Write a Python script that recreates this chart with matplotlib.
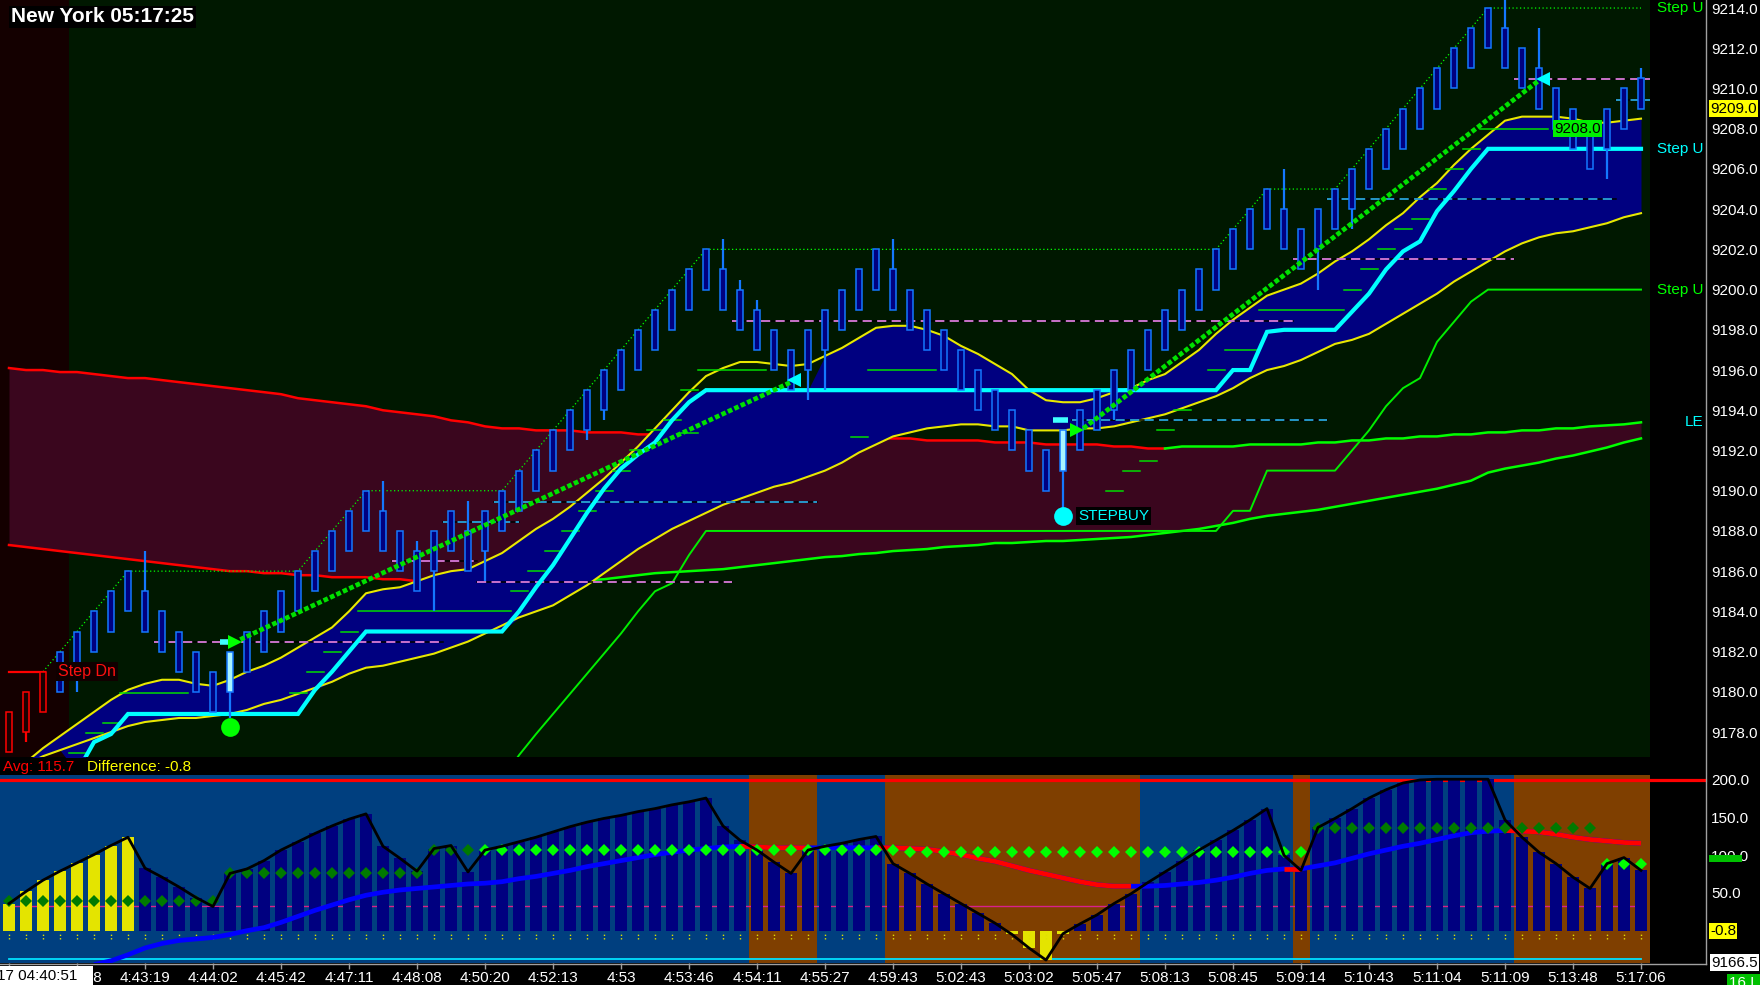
import matplotlib
matplotlib.use("Agg")
import matplotlib.pyplot as plt
import numpy as np
from matplotlib import transforms
from matplotlib.lines import Line2D
from matplotlib.patches import Rectangle

plt.rcParams["font.family"] = ["Liberation Sans", "DejaVu Sans"]
nan = np.nan

# ---------------- price panel data (one entry per range bar) ----------------
opens = [9179, 9178, 9179, 9180, 9181, 9182, 9183, 9184, 9185, 9184,
         9183, 9182, 9181, 9180, 9181, 9182, 9183, 9184, 9185, 9186,
         9187, 9188, 9189, 9188, 9187, 9186, 9187, 9188, 9187, 9188,
         9189, 9190, 9191, 9192, 9193, 9194, 9195, 9196, 9197, 9198,
         9199, 9200, 9201, 9200, 9199, 9198, 9197, 9196, 9197, 9198,
         9199, 9200, 9201, 9200, 9199, 9198, 9197, 9196, 9195, 9194,
         9193, 9192, 9191, 9192, 9193, 9194, 9195, 9196, 9197, 9198,
         9199, 9200, 9201, 9202, 9203, 9204, 9203, 9202, 9203, 9204,
         9205, 9206, 9207, 9208, 9209, 9210, 9211, 9212, 9213, 9212,
         9211, 9210, 9209, 9208, 9207, 9208, 9210.5]
closes = [9177, 9180, 9181, 9182, 9183, 9184, 9185, 9186, 9183, 9182,
          9181, 9180, 9179, 9182, 9183, 9184, 9185, 9186, 9187, 9188,
          9189, 9190, 9187, 9186, 9185, 9188, 9189, 9186, 9189, 9190,
          9191, 9192, 9193, 9194, 9195, 9196, 9197, 9198, 9199, 9200,
          9201, 9202, 9199, 9198, 9197, 9196, 9195, 9198, 9199, 9200,
          9201, 9202, 9199, 9198, 9197, 9196, 9195, 9194, 9193, 9192,
          9191, 9190, 9193, 9194, 9195, 9196, 9197, 9198, 9199, 9200,
          9201, 9202, 9203, 9204, 9205, 9202, 9201, 9204, 9205, 9206,
          9207, 9208, 9209, 9210, 9211, 9212, 9213, 9214, 9211, 9210,
          9209, 9208, 9207, 9206, 9209, 9210, 9209]
wick_hi = {8: 9187.0, 22: 9190.5, 24: 9187.5, 27: 9189.5, 42: 9202.5, 43: 9200.5,
           44: 9199.5, 52: 9202.5, 75: 9206.0, 88: 9215.0, 90: 9213.0, 96: 9211.0}
wick_lo = {1: 9177.5, 4: 9180.0, 13: 9178.7, 25: 9184.0, 28: 9185.5, 34: 9192.5,
           35: 9193.5, 47: 9194.5, 48: 9195.0, 62: 9189.0, 65: 9193.5, 77: 9200.0,
           79: 9203.0, 94: 9205.5}
red_bars = [0, 1, 2]
signal_bars = [13, 62]

band_up = [9175.9, 9176.5, 9177.2, 9177.8, 9178.4, 9179.0, 9179.6, 9180.1, 9180.4, 9180.6,
           9180.6, 9180.4, 9180.3, 9180.6, 9181.0, 9181.3, 9181.7, 9182.2, 9182.7, 9183.2,
           9184.0, 9184.9, 9185.1, 9185.2, 9185.5, 9185.8, 9186.0, 9186.1, 9186.5, 9186.9,
           9187.5, 9188.1, 9188.6, 9189.2, 9189.9, 9190.6, 9191.4, 9192.2, 9193.1, 9194.0,
           9194.9, 9195.7, 9196.1, 9196.4, 9196.4, 9196.3, 9196.2, 9196.3, 9196.7, 9197.1,
           9197.6, 9198.1, 9198.2, 9198.2, 9198.0, 9197.7, 9197.2, 9196.8, 9196.3, 9195.8,
           9195.0, 9194.5, 9194.4, 9194.4, 9194.6, 9194.9, 9195.1, 9195.5, 9195.8, 9196.4,
           9197.0, 9197.8, 9198.5, 9199.1, 9199.7, 9200.0, 9200.3, 9200.8, 9201.4, 9201.9,
           9202.5, 9203.2, 9203.8, 9204.6, 9205.3, 9206.2, 9207.0, 9207.7, 9208.4, 9208.6,
           9208.6, 9208.6, 9208.5, 9208.3, 9208.3, 9208.4, 9208.5]
band_dn = [9176.0, 9176.4, 9176.8, 9177.1, 9177.4, 9177.7, 9178.0, 9178.3, 9178.5, 9178.6,
           9178.7, 9178.7, 9178.8, 9178.9, 9179.1, 9179.4, 9179.6, 9179.9, 9180.2, 9180.5,
           9180.9, 9181.2, 9181.3, 9181.5, 9181.7, 9181.9, 9182.2, 9182.5, 9182.9, 9183.3,
           9183.7, 9184.0, 9184.3, 9184.8, 9185.3, 9185.9, 9186.5, 9187.1, 9187.6, 9188.1,
           9188.5, 9188.9, 9189.3, 9189.6, 9189.9, 9190.2, 9190.4, 9190.7, 9191.0, 9191.4,
           9191.9, 9192.3, 9192.7, 9192.9, 9193.1, 9193.2, 9193.3, 9193.3, 9193.2, 9193.2,
           9193.0, 9193.0, 9193.0, 9193.1, 9193.1, 9193.2, 9193.4, 9193.6, 9193.8, 9194.1,
           9194.4, 9194.7, 9195.1, 9195.6, 9196.0, 9196.2, 9196.5, 9196.9, 9197.3, 9197.5,
           9197.8, 9198.3, 9198.8, 9199.3, 9199.8, 9200.4, 9200.9, 9201.4, 9201.9, 9202.3,
           9202.6, 9202.8, 9202.9, 9203.1, 9203.3, 9203.6, 9203.8]
step_cyan = [nan, nan, nan, nan, 9176.0, 9177.5, 9177.9, 9178.9, 9178.9, 9178.9,
             9178.9, 9178.9, 9178.9, 9178.9, 9178.9, 9178.9, 9178.9, 9178.9, 9180.1, 9181.0,
             9182.0, 9183.0, 9183.0, 9183.0, 9183.0, 9183.0, 9183.0, 9183.0, 9183.0, 9183.0,
             9184.0, 9185.2, 9186.3, 9187.6, 9188.9, 9190.1, 9191.1, 9191.8, 9192.4, 9193.5,
             9194.4, 9195.0, 9195.0, 9195.0, 9195.0, 9195.0, 9195.0, 9195.0, 9195.0, 9195.0,
             9195.0, 9195.0, 9195.0, 9195.0, 9195.0, 9195.0, 9195.0, 9195.0, 9195.0, 9195.0,
             9195.0, 9195.0, 9195.0, 9195.0, 9195.0, 9195.0, 9195.0, 9195.0, 9195.0, 9195.0,
             9195.0, 9195.0, 9196.0, 9196.0, 9197.9, 9198.0, 9198.0, 9198.0, 9198.0, 9198.9,
             9199.8, 9201.0, 9201.9, 9202.4, 9203.9, 9204.9, 9206.0, 9207.0, 9207.0, 9207.0,
             9207.0, 9207.0, 9207.0, 9207.0, 9207.0, 9207.0, 9207.0]
step_green = [nan] * 29 + [
             9175.6,
             9176.85, 9177.9, 9178.9, 9179.9, 9180.9, 9181.9, 9182.9, 9184.0, 9185.0, 9185.4,
             9186.8, 9188.0, 9188.0, 9188.0, 9188.0, 9188.0, 9188.0, 9188.0, 9188.0, 9188.0,
             9188.0, 9188.0, 9188.0, 9188.0, 9188.0, 9188.0, 9188.0, 9188.0, 9188.0, 9188.0,
             9188.0, 9188.0, 9188.0, 9188.0, 9188.0, 9188.0, 9188.0, 9188.0, 9188.0, 9188.0,
             9188.0, 9188.0, 9189.0, 9189.0, 9191.0, 9191.0, 9191.0, 9191.0, 9191.0, 9192.0,
             9193.0, 9194.2, 9195.1, 9195.6, 9197.4, 9198.4, 9199.4, 9200.0, 9200.0, 9200.0,
             9200.0, 9200.0, 9200.0, 9200.0, 9200.0, 9200.0, 9200.0]
env_up = [9196.1, 9196.0, 9196.0, 9195.9, 9195.9, 9195.8, 9195.7, 9195.6, 9195.6, 9195.5,
          9195.4, 9195.3, 9195.2, 9195.1, 9195.0, 9194.9, 9194.8, 9194.6, 9194.5, 9194.4,
          9194.3, 9194.2, 9194.0, 9193.9, 9193.8, 9193.7, 9193.5, 9193.4, 9193.2, 9193.1,
          9193.1, 9193.0, 9193.0, 9193.0, 9192.9, 9192.9, 9192.9, 9192.8, 9192.8, 9192.8,
          9192.8, 9192.8, 9192.8, 9192.7, 9192.7, 9192.7, 9192.7, 9192.6, 9192.6, 9192.6,
          9192.6, 9192.6, 9192.6, 9192.6, 9192.5, 9192.5, 9192.5, 9192.5, 9192.4, 9192.4,
          9192.4, 9192.3, 9192.3, 9192.3, 9192.3, 9192.2, 9192.2, 9192.1, 9192.1, 9192.2,
          9192.2, 9192.2, 9192.2, 9192.3, 9192.3, 9192.3, 9192.3, 9192.4, 9192.4, 9192.5,
          9192.5, 9192.6, 9192.6, 9192.7, 9192.7, 9192.8, 9192.8, 9192.9, 9192.9, 9193.0,
          9193.0, 9193.1, 9193.1, 9193.2, 9193.25, 9193.3, 9193.4]
env_dn = [9187.3, 9187.2, 9187.1, 9187.0, 9186.9, 9186.8, 9186.7, 9186.6, 9186.5, 9186.4,
          9186.3, 9186.2, 9186.1, 9186.0, 9186.0, 9185.9, 9185.9, 9185.8, 9185.8, 9185.7,
          9185.7, 9185.7, 9185.6, 9185.6, 9185.5, 9185.5, 9185.5, 9185.4, 9185.4, 9185.4,
          9185.4, 9185.45, 9185.45, 9185.5, 9185.55, 9185.6, 9185.7, 9185.8, 9185.9, 9185.95,
          9186.0, 9186.05, 9186.1, 9186.2, 9186.3, 9186.4, 9186.5, 9186.6, 9186.7, 9186.75,
          9186.85, 9186.9, 9187.0, 9187.05, 9187.1, 9187.2, 9187.25, 9187.3, 9187.4, 9187.4,
          9187.45, 9187.5, 9187.5, 9187.55, 9187.6, 9187.65, 9187.7, 9187.8, 9187.9, 9188.0,
          9188.1, 9188.25, 9188.4, 9188.6, 9188.75, 9188.85, 9188.95, 9189.05, 9189.2, 9189.35,
          9189.5, 9189.65, 9189.8, 9189.95, 9190.1, 9190.3, 9190.5, 9190.9, 9191.1, 9191.25,
          9191.4, 9191.6, 9191.75, 9191.95, 9192.15, 9192.4, 9192.6]
env_up_red_until = 68
env_dn_red_until = 29
band_gap = list(range(41, 48))   # bars where the blue band stops at the cyan step

trail_segments = [(3.5, 4.5, 9176.95), (4.5, 5.5, 9177.95), (5.5, 6.5, 9178.45), (6.5, 10.5, 9179.95),
                  (16.5, 17.5, 9179.95), (17.5, 18.5, 9181.0), (18.5, 19.5, 9182.0), (19.5, 20.5, 9183.0),
                  (20.5, 29.5, 9184.0), (29.5, 30.5, 9185.0), (30.5, 31.5, 9186.0), (31.5, 32.5, 9187.0),
                  (32.5, 33.5, 9188.0), (33.5, 34.5, 9189.0), (34.5, 35.5, 9190.0), (35.5, 36.5, 9191.0),
                  (36.5, 37.5, 9192.0), (37.5, 38.5, 9193.0), (38.5, 39.5, 9193.5), (39.5, 40.5, 9195.0),
                  (40.5, 44.5, 9196.0), (39.5, 40.5, 9192.85), (49.5, 50.5, 9192.65), (50.5, 54.5, 9196.0),
                  (64.5, 65.5, 9190.0), (65.5, 66.5, 9191.0), (66.5, 67.5, 9191.5), (67.5, 68.5, 9193.0),
                  (68.5, 69.5, 9194.0), (70.5, 71.5, 9196.0), (71.5, 73.5, 9197.0), (73.5, 78.5, 9199.0),
                  (78.5, 79.5, 9200.0), (79.5, 80.5, 9201.0), (80.5, 81.5, 9202.0), (81.5, 82.5, 9203.0),
                  (82.5, 83.5, 9203.5), (83.5, 84.5, 9205.0), (84.5, 85.5, 9206.0), (85.5, 86.5, 9207.0),
                  (86.5, 90.5, 9208.0)]
level_lines = [(8.5, 25.5, 9182.5, "pink"), (22.5, 27.5, 9186.5, "pink"), (27.5, 42.5, 9185.45, "pink"),
               (25.5, 30.0, 9188.45, "cyan"), (28.5, 47.5, 9189.45, "cyan"), (42.5, 75.5, 9198.45, "pink"),
               (62.5, 77.5, 9193.5, "cyan"), (75.5, 88.5, 9201.5, "pink"), (77.5, 94.5, 9204.5, "cyan"),
               (88.5, 96.5, 9210.45, "pink"), (94.5, 96.5, 9209.45, "cyan")]
trend_lines = [([13.6, 46.0], [9182.6, 9195.4]), ([63.2, 90.0], [9193.1, 9210.4])]
entry_arrows = [(13.3, 9182.5, ">", "#00ff00"), (62.85, 9193.0, ">", "#00ff00"),
                (46.2, 9195.5, "<", "#00ffff"), (90.25, 9210.45, "<", "#00ffff")]
entry_stubs = [(12.4, 13.2, 9182.5), (61.4, 62.3, 9193.5)]
buy_dots = [(13, 9178.25, "#00ff00"), (62, 9188.75, "#00ffff")]
step_dn_x, step_dn_y = [0, 2.1], [9181.0, 9181.0]
price_ticks = np.arange(9178, 9215, 2)

# ---------------- oscillator panel data ----------------
osc = [36, 52, 67, 79, 90, 101, 113, 124, 83, 71,
       58, 44, 32, 76, 82, 93, 107, 118, 129, 139,
       148, 155, 112, 96, 79, 109, 113, 78, 107, 112,
       118, 124, 131, 138, 144, 149, 153, 158, 162, 167,
       171, 176, 139, 120, 107, 91, 76, 107, 112, 116,
       121, 125, 89, 76, 62, 49, 36, 23, 10, -5,
       -23, -39, -4, 9, 21, 36, 49, 64, 78, 92,
       107, 120, 133, 147, 162, 100, 80, 137, 149, 162,
       176, 187, 196, 200, 201, 201, 201, 201, 147, 124,
       104, 89, 71, 56, 89, 97, 80]
osc_yellow = [0, 1, 2, 3, 4, 5, 6, 7, 59, 60, 61, 62]
sig = [nan, nan, nan, nan, nan, -45, -40, -32, -23, -17,
       -13, -11, -9, -5, 0, 4, 11, 19, 27, 34,
       41, 47, 51, 54, 56, 58, 60, 62, 63, 65,
       69, 72, 76, 80, 85, 89, 93, 97, 101, 104,
       107, 109, 111, 112, 111, 110, 110, 110, 110, 110,
       110, 110, 110, 109, 108, 105, 101, 96, 92, 86,
       80, 75, 70, 65, 61, 59, 59, 59, 60, 62,
       64, 67, 71, 76, 80, 82, 82, 86, 90, 96,
       102, 107, 112, 116, 121, 126, 130, 132, 133, 132,
       131, 128, 124, 121, 119, 117, 116]
sig_falling = [(43, 47), (51, 66), (75, 76), (88, 96)]
diamond_runs = [(0, 12, 39, "#007a00"), (13, 24, 76, "#007a00"), (25, 27, 107, "#007a00"),
                (28, 52, 107, "#00ff00"), (53, 76, 104, "#00ff00"), (77, 93, 136, "#007a00"),
                (94, 96, 88, "#00ff00")]
orange_runs = [(44, 47), (52, 66), (76, 76), (89, 96)]
upper_level, mid_level, low_level = 200, 33, -37
osc_ticks = [50, 100, 150, 200]
time_labels = ["04:40:51", "4:42:08", "4:43:19", "4:44:02", "4:45:42", "4:47:11", "4:48:08",
               "4:50:20", "4:52:13", "4:53", "4:53:46", "4:54:11", "4:55:27", "4:59:43",
               "5:02:43", "5:03:02", "5:05:47", "5:08:13", "5:08:45", "5:09:14", "5:10:43",
               "5:11:04", "5:11:09", "5:13:48", "5:17:06"]

# ---------------- figure ----------------
W, H = 1760, 985
fig = plt.figure(figsize=(W / 100, H / 100), dpi=100, facecolor="black")


def fx(px):
    return px / W


def fy(py):
    return 1 - py / H


x = np.arange(len(closes))
o = np.array(opens, float)
c = np.array(closes, float)
highs = np.maximum(o, c)
lows = np.minimum(o, c)
for k, v in wick_hi.items():
    highs[k] = v
for k, v in wick_lo.items():
    lows[k] = v
up = np.array(band_up)
dn = np.array(band_dn)
cy = np.array(step_cyan)
eu = np.array(env_up)
ed = np.array(env_dn)

ax = fig.add_axes([0, fy(757), fx(1650), 757 / H])
ax2 = fig.add_axes([0, fy(963), fx(1650), (963 - 775) / H])
xlim = (-9 / 17, (1650 - 9) / 17)
for a in (ax, ax2):
    a.set_xlim(*xlim)
    for s in a.spines.values():
        s.set_visible(False)
    a.spines["right"].set_position(("outward", 55 * 0.72))
    a.yaxis.tick_right()
    a.tick_params(axis="y", length=0, pad=4.3, labelcolor="white", labelsize=11)

# --- price panel
ax.set_facecolor("#001800")
ax.set_ylim(9176.76, 9214.40)
ax.set_xticks([])
ax.set_yticks(price_ticks)
ax.set_yticklabels([f"{v:.1f}" for v in price_ticks])
ax.axvspan(xlim[0], red_bars[-1] + 1.5, color="#140000", lw=0, zorder=0)

ax.fill_between(x, ed, eu, color="#3a061e", lw=0, zorder=1)
r = env_up_red_until
ax.plot(x[:r + 1], eu[:r + 1], color="#ff0000", lw=1.8, zorder=2)
ax.plot(x[r:], eu[r:], color="#00ff00", lw=1.8, zorder=2)
r = env_dn_red_until
ax.plot(x[:r + 1], ed[:r + 1], color="#ff0000", lw=1.8, zorder=2)
ax.plot(x[r:], ed[r:], color="#00ff00", lw=1.8, zorder=2)

top = np.fmax(up, cy)
top[band_gap] = cy[band_gap]
bot = np.fmin(dn, cy)
ax.fill_between(x, bot, top, color="#000080", lw=0, zorder=2)
ax.plot(x, up, color="#e8e800", lw=1.5, zorder=3)
ax.plot(x, dn, color="#e8e800", lw=1.5, zorder=3)
ax.plot(x, step_green, color="#00ee00", lw=1.4, zorder=3)
ax.plot(x, cy, color="#00ffff", lw=3.0, zorder=4, solid_joinstyle="miter")

for x0, x1, y in trail_segments:
    ax.plot([x0, x1], [y, y], color="#00dd00", lw=1.1, zorder=3)
for x0, x1, y, col in level_lines:
    ax.plot([x0, x1], [y, y], color="black", lw=1.1, zorder=3)
    ax.plot([x0, x1], [y, y], color="#ff90ff" if col == "pink" else "#30c0ff",
            lw=1.1, ls=(0, (6, 3.5)), zorder=3)

body_lo = np.minimum(o, c)
body_h = np.abs(c - o)
face = ["#a8f4ff" if i in signal_bars else ("#1a0000" if i in red_bars else "#000080") for i in x]
edge = ["#ff0000" if i in red_bars else "#1478ff" for i in x]
ax.vlines(x, lows, highs, colors=edge, lw=1.6, zorder=5)
ax.bar(x, body_h, bottom=body_lo, width=0.34, color=face, edgecolor=edge, linewidth=1.1, zorder=6)

tops = np.maximum(o, c)
hw = np.maximum.accumulate(tops[2:])
ax.plot(x[2:], hw, color="#00ff00", lw=0.9, ls=(0, (1, 2)), zorder=4)
ax.plot(step_dn_x, step_dn_y, color="#ff0000", lw=1.6, zorder=4)

for tx, ty in trend_lines:
    ax.plot(tx, ty, color="#00e000", lw=3.4, ls=(0, (1, 0.5)), zorder=7)
for x0, x1, y in entry_stubs:
    ax.plot([x0, x1], [y, y], color="#40ffff", lw=4, solid_capstyle="butt", zorder=7)
for ex, ey, m, col in entry_arrows:
    ax.plot(ex, ey, marker=m, ms=10, color=col, mew=0, zorder=8)
for bx, by, col in buy_dots:
    ax.plot(bx, by, "o", ms=13.5, color=col, mew=0, zorder=8)

ax.text(step_dn_x[-1] + 0.8, step_dn_y[0], "Step Dn", color="#ff1010", fontsize=11.5,
        ha="left", va="center", zorder=9,
        bbox=dict(boxstyle="square,pad=0.12", fc="#100000", ec="none"))
ax.text(buy_dots[1][0] + 0.9, buy_dots[1][1], "STEPBUY", color="#00ffff", fontsize=11,
        ha="left", va="center", zorder=9,
        bbox=dict(boxstyle="square,pad=0.12", fc="black", ec="none"))
ax.text(90.9, trail_segments[-1][2], "9208.0", color="black", fontsize=11,
        ha="left", va="center", zorder=9,
        bbox=dict(boxstyle="square,pad=0.1", fc="#00ee00", ec="none"))

tr_p = transforms.blended_transform_factory(fig.transFigure, ax.transData)
for y, txt, col in [(hw[-1], "Step U", "#00ff00"), (cy[-1], "Step U", "#00ffff"),
                    (step_green[-1], "Step U", "#00ff00"), (eu[-1], "LE", "#00ffff")]:
    ax.text(fx(1703), y, txt, color=col, fontsize=11, ha="right", va="center",
            transform=tr_p, clip_on=False)
ax.text(fx(1710), c[-1], f"{c[-1]:.1f}", color="black", fontsize=11, ha="left", va="center",
        transform=tr_p, clip_on=False, zorder=10,
        bbox=dict(boxstyle="square,pad=0.08", fc="#ffff00", ec="none"))

# --- oscillator panel
ax2.set_facecolor("#003f7f")
ax2.set_ylim(-42.9, 206.6)
for s0, s1 in orange_runs:
    ax2.axvspan(s0 - 0.5, s1 + 0.5, color="#7f3f00", lw=0, zorder=0)
ax2.plot([xlim[0], (1705 - 9) / 17], [upper_level] * 2, color="#ff0000", lw=2.3,
         clip_on=False, zorder=3)
ax2.plot([x[0] - 0.3, x[-1]], [mid_level] * 2, color="#d8208c", lw=1.0, zorder=2)
ax2.plot([x[0], x[-1]], [low_level] * 2, color="#00e0ff", lw=1.3, zorder=2)
bar_cols = ["#e4e400" if i in osc_yellow else "#000080" for i in x]
ax2.bar(x, osc, width=0.68, color=bar_cols, zorder=3)
ax2.vlines(x, -11, -2, colors="#e0e000", lw=1, linestyles=(0, (1, 1.5)), zorder=3)

sg = np.array(sig)
ax2.plot(x, sg, color="#0000ff", lw=3.4, zorder=4, solid_capstyle="butt")
for s0, s1 in sig_falling:
    ax2.plot(x[s0:s1 + 1], sg[s0:s1 + 1], color="#ff0000", lw=3.4, zorder=4,
             solid_capstyle="butt")
for s0, s1, lvl, col in diamond_runs:
    xs = np.arange(s0, s1 + 1)
    ax2.plot(xs, [lvl] * len(xs), "D", ms=6.5, color=col, mew=0, zorder=5)
ax2.plot(x, osc, color="black", lw=2.0, zorder=6)

ax2.set_yticks(osc_ticks)
ax2.set_yticklabels([f"{v:.1f}" for v in osc_ticks])
ax2.set_xticks(x[::4])
ax2.set_xticklabels([""] + time_labels[1:])
ax2.tick_params(axis="x", length=4, color="#a0a0a0", width=1, pad=1.5,
                labelcolor="white", labelsize=11)

tr_o = transforms.blended_transform_factory(fig.transFigure, ax2.transData)
fig.add_artist(Rectangle((fx(1709), fy(862)), fx(33), 7 / H, color="#00c000", lw=0, zorder=5))
ax2.text(fx(1710), -0.8, "-0.8", color="black", fontsize=11, ha="left", va="center",
         transform=tr_o, clip_on=False,
         bbox=dict(boxstyle="square,pad=0.08", fc="#ffff00", ec="none"))
ax2.text(fx(1711), -42.5, "9166.5", color="black", fontsize=11, ha="left", va="center",
         transform=tr_o, clip_on=False,
         bbox=dict(boxstyle="square,pad=0.08", fc="white", ec="none"))

# --- frame lines and fixed texts
fig.add_artist(Line2D([fx(1705.5)] * 2, [fy(0), fy(963.5)], color="#a0a0a0", lw=1))
fig.add_artist(Line2D([0, fx(1705.5)], [fy(963.5)] * 2, color="#a0a0a0", lw=1))
fig.add_artist(Rectangle((0, 0), fx(93), fy(966), color="white", lw=0, zorder=5))
fig.text(fx(-3), fy(976), "17 " + time_labels[0], color="black", fontsize=11,
         ha="left", va="center", zorder=6)
fig.text(fx(1729), fy(983), "16 L", color="white", fontsize=11, ha="left", va="center",
         bbox=dict(boxstyle="square,pad=0.1", fc="#00c000", ec="none"))
fig.text(fx(3), fy(767), "Avg: 115.7", color="#ff0000", fontsize=11, ha="left", va="center")
fig.text(fx(87), fy(767), "Difference: -0.8", color="#ffff00", fontsize=11, ha="left", va="center")
fig.text(fx(11), fy(17), "New York 05:17:25", color="white", fontsize=15, weight="bold",
         ha="left", va="center", bbox=dict(boxstyle="square,pad=0.08", fc="black", ec="none"))

fig.savefig("out.png", dpi=100, facecolor="black")
